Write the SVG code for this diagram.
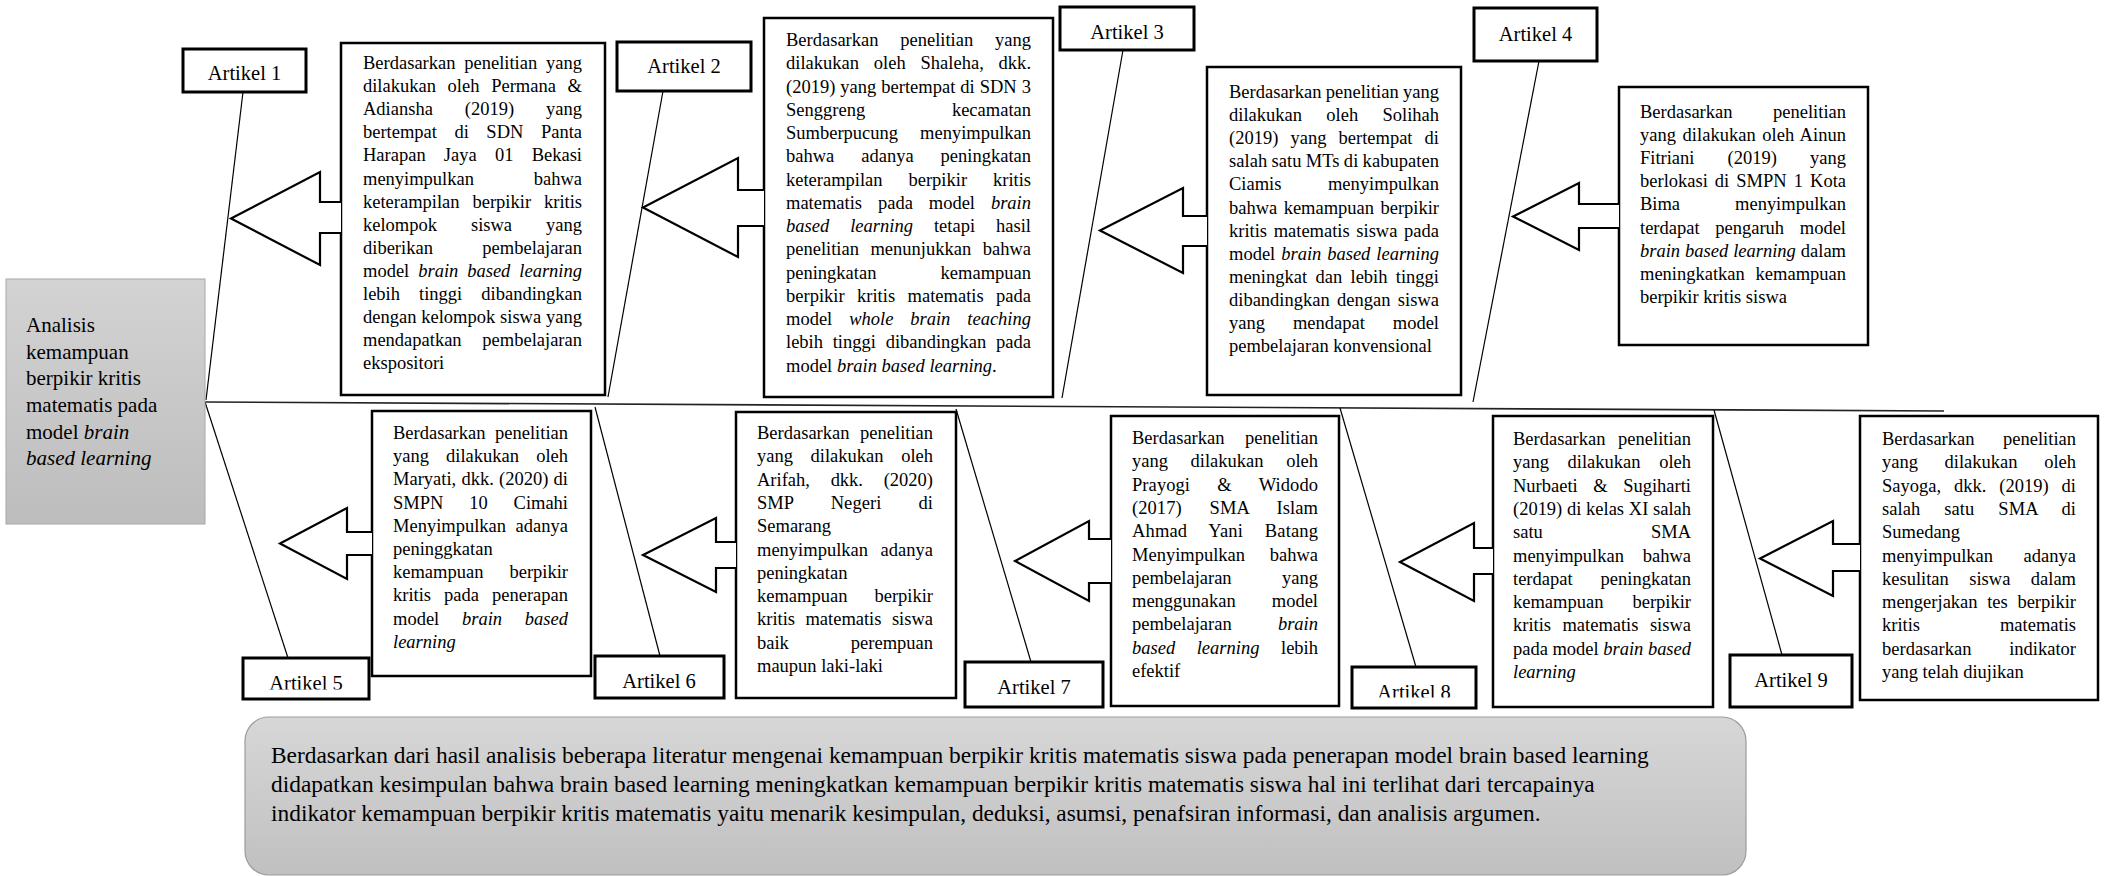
<svg xmlns="http://www.w3.org/2000/svg" width="2105" height="876" viewBox="0 0 2105 876">
<defs>
<style>
.box{fill:#fff;stroke:#000;stroke-width:2.5}
.lbl{fill:#fff;stroke:#000;stroke-width:3}
.arr{fill:#fff;stroke:#000;stroke-width:2.2;stroke-linejoin:miter}
.t{font-family:"Liberation Serif","Times New Roman",serif;font-size:18.5px;fill:#000}
.lt{font-family:"Liberation Serif","Times New Roman",serif;font-size:20.5px;fill:#000;text-anchor:middle}
.mt{font-family:"Liberation Serif","Times New Roman",serif;font-size:21px;fill:#000}
.ct{font-family:"Liberation Serif","Times New Roman",serif;font-size:23.4px;fill:#000}
.i{font-style:italic}
.conn line{stroke:#000;stroke-width:1.2}
</style>
<linearGradient id="gMain" x1="0" y1="0" x2="0" y2="1"><stop offset="0" stop-color="#d3d3d3"/><stop offset="1" stop-color="#bdbdbd"/></linearGradient>
<linearGradient id="gConc" x1="0" y1="0" x2="0" y2="1"><stop offset="0" stop-color="#d7d7d7"/><stop offset="1" stop-color="#c0c0c0"/></linearGradient>
<clipPath id="c5"><rect x="243" y="658" width="126" height="31.5"/></clipPath>
<clipPath id="c8"><rect x="1352" y="667" width="124" height="30.5"/></clipPath>
</defs>
<rect width="2105" height="876" fill="#fff"/>

<g id="connectors" class="conn">
<line x1="205" y1="402" x2="1944" y2="411" style="stroke:#222;stroke-width:1.6"/>
<line x1="243" y1="92" x2="206" y2="400"/>
<line x1="663" y1="91" x2="608" y2="397"/>
<line x1="1123" y1="50" x2="1062" y2="398"/>
<line x1="1539" y1="61" x2="1473" y2="402"/>
<line x1="205" y1="402" x2="288" y2="658"/>
<line x1="595" y1="407" x2="660" y2="656"/>
<line x1="956" y1="409" x2="1031" y2="662"/>
<line x1="1340" y1="408" x2="1416" y2="667"/>
<line x1="1714" y1="410" x2="1782" y2="655"/>
</g>

<g id="main">
<rect x="6" y="279" width="199" height="245" fill="url(#gMain)" stroke="#a8a8a8" stroke-width="1"/>
<text class="mt" x="26" y="332">Analisis</text>
<text class="mt" x="26" y="359">kemampuan</text>
<text class="mt" x="26" y="385">berpikir kritis</text>
<text class="mt" x="26" y="412">matematis pada</text>
<text class="mt" x="26" y="439">model <tspan class="i">brain</tspan></text>
<text class="mt i" x="26" y="465">based learning</text>
</g>

<g id="label1"><rect class="lbl" x="183" y="49" width="123" height="43"/><text class="lt" x="244.5" y="80">Artikel 1</text></g>
<g id="label2"><rect class="lbl" x="617" y="42" width="134" height="49"/><text class="lt" x="684" y="73">Artikel 2</text></g>
<g id="label3"><rect class="lbl" x="1060" y="7" width="134" height="43"/><text class="lt" x="1127" y="39">Artikel 3</text></g>
<g id="label4"><rect class="lbl" x="1474" y="8" width="123" height="53"/><text class="lt" x="1535.5" y="41">Artikel 4</text></g>
<g id="label5"><rect class="lbl" x="243" y="658" width="126" height="41"/><text class="lt" x="306" y="690" clip-path="url(#c5)">Artikel 5</text></g>
<g id="label6"><rect class="lbl" x="595" y="656" width="129" height="42"/><text class="lt" x="659" y="688">Artikel 6</text></g>
<g id="label7"><rect class="lbl" x="965" y="662" width="138" height="45"/><text class="lt" x="1034" y="694">Artikel 7</text></g>
<g id="label8"><rect class="lbl" x="1352" y="667" width="124" height="41"/><text class="lt" x="1414" y="699" clip-path="url(#c8)">Artikel 8</text></g>
<g id="label9"><rect class="lbl" x="1730" y="655" width="122" height="52"/><text class="lt" x="1791" y="687">Artikel 9</text></g>

<g id="note1">
<rect class="box" x="341" y="43" width="264" height="352"/>
<path class="arr" d="M341,202 H320 V172 L231,218.5 L320,265 V233 H341"/>
<text class="t" x="363" y="69" textLength="219" style="word-spacing:4.2px">Berdasarkan penelitian yang</text>
<text class="t" x="363" y="92.1" textLength="219" style="word-spacing:7.1px">dilakukan oleh Permana &amp;</text>
<text class="t" x="363" y="115.2" textLength="219" style="word-spacing:27.3px">Adiansha (2019) yang</text>
<text class="t" x="363" y="138.3" textLength="219" style="word-spacing:12.9px">bertempat di SDN Panta</text>
<text class="t" x="363" y="161.4" textLength="219" style="word-spacing:13.6px">Harapan Jaya 01 Bekasi</text>
<text class="t" x="363" y="184.5" textLength="219" style="word-spacing:55.1px">menyimpulkan bahwa</text>
<text class="t" x="363" y="207.6" textLength="219" style="word-spacing:8.3px">keterampilan berpikir kritis</text>
<text class="t" x="363" y="230.7" textLength="219" style="word-spacing:29.3px">kelompok siswa yang</text>
<text class="t" x="363" y="253.8" textLength="219" style="word-spacing:44.8px">diberikan pembelajaran</text>
<text class="t" x="363" y="276.9" textLength="219" style="word-spacing:4.3px">model <tspan class="i">brain based learning</tspan></text>
<text class="t" x="363" y="300" textLength="219" style="word-spacing:14.4px">lebih tinggi dibandingkan</text>
<text class="t" x="363" y="323.1" textLength="219" style="word-spacing:0.2px">dengan kelompok siswa yang</text>
<text class="t" x="363" y="346.2" textLength="219" style="word-spacing:16.1px">mendapatkan pembelajaran</text>
<text class="t" x="363" y="369.3">ekspositori</text>
</g>

<g id="note2">
<rect class="box" x="764" y="18" width="289" height="379"/>
<path class="arr" d="M764,190 H738 V158 L643,207.5 L738,257 V226 H764"/>
<text class="t" x="786" y="46" textLength="245" style="word-spacing:17.2px">Berdasarkan penelitian yang</text>
<text class="t" x="786" y="69.3" textLength="245" style="word-spacing:10.2px">dilakukan oleh Shaleha, dkk.</text>
<text class="t" x="786" y="92.5" textLength="245" style="word-spacing:0.4px">(2019) yang bertempat di SDN 3</text>
<text class="t" x="786" y="115.8" textLength="245" style="word-spacing:82.1px">Senggreng kecamatan</text>
<text class="t" x="786" y="139" textLength="245" style="word-spacing:17.4px">Sumberpucung menyimpulkan</text>
<text class="t" x="786" y="162.3" textLength="245" style="word-spacing:22.3px">bahwa adanya peningkatan</text>
<text class="t" x="786" y="185.5" textLength="245" style="word-spacing:21.3px">keterampilan berpikir kritis</text>
<text class="t" x="786" y="208.8" textLength="245" style="word-spacing:11.3px">matematis pada model <tspan class="i">brain</tspan></text>
<text class="t" x="786" y="232" textLength="245" style="word-spacing:16.4px"><tspan class="i">based learning</tspan> tetapi hasil</text>
<text class="t" x="786" y="255.3" textLength="245" style="word-spacing:6.9px">penelitian menunjukkan bahwa</text>
<text class="t" x="786" y="278.5" textLength="245" style="word-spacing:59.5px">peningkatan kemampuan</text>
<text class="t" x="786" y="301.8" textLength="245" style="word-spacing:7.8px">berpikir kritis matematis pada</text>
<text class="t" x="786" y="325" textLength="245" style="word-spacing:12.3px">model <tspan class="i">whole brain teaching</tspan></text>
<text class="t" x="786" y="348.3" textLength="245" style="word-spacing:5.1px">lebih tinggi dibandingkan pada</text>
<text class="t" x="786" y="371.5">model <tspan class="i">brain based learning</tspan>.</text>
</g>

<g id="note3">
<rect class="box" x="1207" y="67" width="254" height="328"/>
<path class="arr" d="M1207,216 H1183 V188 L1100,230.5 L1183,273 V246 H1207"/>
<text class="t" x="1229" y="98" textLength="210" style="word-spacing:-0.3px">Berdasarkan penelitian yang</text>
<text class="t" x="1229" y="121.1" textLength="210" style="word-spacing:19.7px">dilakukan oleh Solihah</text>
<text class="t" x="1229" y="144.2" textLength="210" style="word-spacing:7.5px">(2019) yang bertempat di</text>
<text class="t" x="1229" y="167.3" textLength="210" style="word-spacing:-0.4px">salah satu MTs di kabupaten</text>
<text class="t" x="1229" y="190.4" textLength="210" style="word-spacing:41.9px">Ciamis menyimpulkan</text>
<text class="t" x="1229" y="213.5" textLength="210" style="word-spacing:1.7px">bahwa kemampuan berpikir</text>
<text class="t" x="1229" y="236.6" textLength="210" style="word-spacing:2px">kritis matematis siswa pada</text>
<text class="t" x="1229" y="259.7" textLength="210" style="word-spacing:1.3px">model <tspan class="i">brain based learning</tspan></text>
<text class="t" x="1229" y="282.8" textLength="210" style="word-spacing:3.7px">meningkat dan lebih tinggi</text>
<text class="t" x="1229" y="305.9" textLength="210" style="word-spacing:2.7px">dibandingkan dengan siswa</text>
<text class="t" x="1229" y="329" textLength="210" style="word-spacing:23.3px">yang mendapat model</text>
<text class="t" x="1229" y="352.1">pembelajaran konvensional</text>
</g>

<g id="note4">
<rect class="box" x="1619" y="87" width="249" height="258"/>
<path class="arr" d="M1619,204 H1579 V183 L1513,216.5 L1579,250 V228 H1619"/>
<text class="t" x="1640" y="118" textLength="206" style="word-spacing:35.9px">Berdasarkan penelitian</text>
<text class="t" x="1640" y="141.1" textLength="206" style="word-spacing:1.7px">yang dilakukan oleh Ainun</text>
<text class="t" x="1640" y="164.2" textLength="206" style="word-spacing:28.5px">Fitriani (2019) yang</text>
<text class="t" x="1640" y="187.3" textLength="206" style="word-spacing:2.4px">berlokasi di SMPN 1 Kota</text>
<text class="t" x="1640" y="210.4" textLength="206" style="word-spacing:50.3px">Bima menyimpulkan</text>
<text class="t" x="1640" y="233.5" textLength="206" style="word-spacing:11px">terdapat pengaruh model</text>
<text class="t" x="1640" y="256.6" textLength="206" style="word-spacing:0.3px"><tspan class="i">brain based learning</tspan> dalam</text>
<text class="t" x="1640" y="279.7" textLength="206" style="word-spacing:6.1px">meningkatkan kemampuan</text>
<text class="t" x="1640" y="302.8">berpikir kritis siswa</text>
</g>

<g id="note5">
<rect class="box" x="372" y="411" width="219" height="265"/>
<path class="arr" d="M372,532 H347 V508 L280,543.5 L347,579 V555 H372"/>
<text class="t" x="393" y="439" textLength="175" style="word-spacing:4.9px">Berdasarkan penelitian</text>
<text class="t" x="393" y="462.2" textLength="175" style="word-spacing:12.5px">yang dilakukan oleh</text>
<text class="t" x="393" y="485.4" textLength="175" style="word-spacing:0.6px">Maryati, dkk. (2020) di</text>
<text class="t" x="393" y="508.6" textLength="175" style="word-spacing:21.2px">SMPN 10 Cimahi</text>
<text class="t" x="393" y="531.8" textLength="175" style="word-spacing:4.9px">Menyimpulkan adanya</text>
<text class="t" x="393" y="555">peninggkatan</text>
<text class="t" x="393" y="578.2" textLength="175" style="word-spacing:21.4px">kemampuan berpikir</text>
<text class="t" x="393" y="601.4" textLength="175" style="word-spacing:8.4px">kritis pada penerapan</text>
<text class="t" x="393" y="624.6" textLength="175" style="word-spacing:18.1px">model <tspan class="i">brain based</tspan></text>
<text class="t i" x="393" y="647.8">learning</text>
</g>

<g id="note6">
<rect class="box" x="736" y="412" width="220" height="286"/>
<path class="arr" d="M736,542 H716 V518 L643,555 L716,592 V568 H736"/>
<text class="t" x="757" y="439" textLength="176" style="word-spacing:6px">Berdasarkan penelitian</text>
<text class="t" x="757" y="462.3" textLength="176" style="word-spacing:13px">yang dilakukan oleh</text>
<text class="t" x="757" y="485.6" textLength="176" style="word-spacing:16.1px">Arifah, dkk. (2020)</text>
<text class="t" x="757" y="508.9" textLength="176" style="word-spacing:32.5px">SMP Negeri di</text>
<text class="t" x="757" y="532.2">Semarang</text>
<text class="t" x="757" y="555.5" textLength="176" style="word-spacing:8px">menyimpulkan adanya</text>
<text class="t" x="757" y="578.8">peningkatan</text>
<text class="t" x="757" y="602.1" textLength="176" style="word-spacing:22.4px">kemampuan berpikir</text>
<text class="t" x="757" y="625.4" textLength="176" style="word-spacing:5.8px">kritis matematis siswa</text>
<text class="t" x="757" y="648.7" textLength="176" style="word-spacing:57.3px">baik perempuan</text>
<text class="t" x="757" y="672">maupun laki-laki</text>
</g>

<g id="note7">
<rect class="box" x="1111" y="416" width="228" height="290"/>
<path class="arr" d="M1111,539 H1089 V521 L1015,561 L1089,601 V583 H1111"/>
<text class="t" x="1132" y="444" textLength="186" style="word-spacing:15.9px">Berdasarkan penelitian</text>
<text class="t" x="1132" y="467.3" textLength="186" style="word-spacing:18px">yang dilakukan oleh</text>
<text class="t" x="1132" y="490.6" textLength="186" style="word-spacing:22.6px">Prayogi &amp; Widodo</text>
<text class="t" x="1132" y="513.9" textLength="186" style="word-spacing:23.1px">(2017) SMA Islam</text>
<text class="t" x="1132" y="537.2" textLength="186" style="word-spacing:17px">Ahmad Yani Batang</text>
<text class="t" x="1132" y="560.5" textLength="186" style="word-spacing:20px">Menyimpulkan bahwa</text>
<text class="t" x="1132" y="583.8" textLength="186" style="word-spacing:45.8px">pembelajaran yang</text>
<text class="t" x="1132" y="607.1" textLength="186" style="word-spacing:31.3px">menggunakan model</text>
<text class="t" x="1132" y="630.4" textLength="186" style="word-spacing:41.6px">pembelajaran <tspan class="i">brain</tspan></text>
<text class="t" x="1132" y="653.7" textLength="186" style="word-spacing:16.9px"><tspan class="i">based learning</tspan> lebih</text>
<text class="t" x="1132" y="677">efektif</text>
</g>

<g id="note8">
<rect class="box" x="1493" y="416" width="220" height="291"/>
<path class="arr" d="M1493,548 H1474 V523 L1400,562 L1474,601 V574 H1493"/>
<text class="t" x="1513" y="445" textLength="178" style="word-spacing:8px">Berdasarkan penelitian</text>
<text class="t" x="1513" y="468.3" textLength="178" style="word-spacing:14px">yang dilakukan oleh</text>
<text class="t" x="1513" y="491.6" textLength="178" style="word-spacing:10.9px">Nurbaeti &amp; Sugiharti</text>
<text class="t" x="1513" y="514.9" textLength="178" style="word-spacing:0.1px">(2019) di kelas XI salah</text>
<text class="t" x="1513" y="538.2" textLength="178" style="word-spacing:103.5px">satu SMA</text>
<text class="t" x="1513" y="561.5" textLength="178" style="word-spacing:14.1px">menyimpulkan bahwa</text>
<text class="t" x="1513" y="584.8" textLength="178" style="word-spacing:23.4px">terdapat peningkatan</text>
<text class="t" x="1513" y="608.1" textLength="178" style="word-spacing:24.4px">kemampuan berpikir</text>
<text class="t" x="1513" y="631.4" textLength="178" style="word-spacing:6.8px">kritis matematis siswa</text>
<text class="t" x="1513" y="654.7" textLength="178" style="word-spacing:0px">pada model <tspan class="i">brain based</tspan></text>
<text class="t i" x="1513" y="678">learning</text>
</g>

<g id="note9">
<rect class="box" x="1860" y="416" width="238" height="284"/>
<path class="arr" d="M1860,544 H1833 V521 L1760,558.5 L1833,596 V571 H1860"/>
<text class="t" x="1882" y="445" textLength="194" style="word-spacing:23.9px">Berdasarkan penelitian</text>
<text class="t" x="1882" y="468.3" textLength="194" style="word-spacing:22px">yang dilakukan oleh</text>
<text class="t" x="1882" y="491.6" textLength="194" style="word-spacing:8.3px">Sayoga, dkk. (2019) di</text>
<text class="t" x="1882" y="514.9" textLength="194" style="word-spacing:19.3px">salah satu SMA di</text>
<text class="t" x="1882" y="538.2">Sumedang</text>
<text class="t" x="1882" y="561.5" textLength="194" style="word-spacing:26px">menyimpulkan adanya</text>
<text class="t" x="1882" y="584.8" textLength="194" style="word-spacing:15.8px">kesulitan siswa dalam</text>
<text class="t" x="1882" y="608.1" textLength="194" style="word-spacing:5px">mengerjakan tes berpikir</text>
<text class="t" x="1882" y="631.4" textLength="194" style="word-spacing:75.3px">kritis matematis</text>
<text class="t" x="1882" y="654.7" textLength="194" style="word-spacing:33.2px">berdasarkan indikator</text>
<text class="t" x="1882" y="678">yang telah diujikan</text>
</g>

<g id="conclusion">
<rect x="245" y="717" width="1501" height="158" rx="24" ry="24" fill="url(#gConc)" stroke="#9c9c9c" stroke-width="1.2"/>
<text class="ct" x="271" y="763">Berdasarkan dari hasil analisis beberapa literatur mengenai kemampuan berpikir kritis matematis siswa pada penerapan model brain based learning</text>
<text class="ct" x="271" y="792">didapatkan kesimpulan bahwa brain based learning meningkatkan kemampuan berpikir kritis matematis siswa hal ini terlihat dari tercapainya</text>
<text class="ct" x="271" y="821">indikator kemampuan berpikir kritis matematis yaitu menarik kesimpulan, deduksi, asumsi, penafsiran informasi, dan analisis argumen.</text>
</g>
</svg>
